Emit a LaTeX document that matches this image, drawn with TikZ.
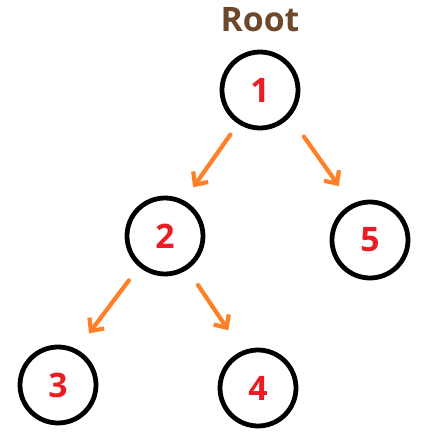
\documentclass[tikz,border=0pt]{standalone}
\usepackage{fontspec}
\setmainfont{Open Sans}
\usepackage{xcolor}
\usepackage{tikz}
\usetikzlibrary{arrows.meta,positioning}
\definecolor{rootbrown}{RGB}{110,72,40}
\definecolor{keyred}{RGB}{235,28,36}
\definecolor{edgeorange}{RGB}{255,128,38}

\begin{document}
\begin{tikzpicture}[
  tnode/.style={circle,draw=black,line width=3.4pt,minimum size=1.9cm,inner sep=0pt,
                font=\fontsize{24}{26}\selectfont\bfseries,text=keyred},
  arr/.style={-{Straight Barb[length=7pt,width=13pt,line width=3pt]},line width=3pt,
              draw=edgeorange,line cap=round},
  on grid]
  \useasboundingbox (-6.5,2.25) rectangle (4.375,-8.85);
  \node[tnode](n1){1};
  \node[font=\fontsize{24}{26}\selectfont\bfseries,text=rootbrown,above=1.75cm of n1](root){Root};
  \node[tnode,below left=3.65cm and 2.375cm of n1](n2){2};
  \node[tnode,below right=3.75cm and 2.75cm of n1](n5){5};
  \node[tnode,below left=3.725cm and 2.675cm of n2](n3){3};
  \node[tnode,below right=3.8cm and 2.325cm of n2](n4){4};
  \draw[arr,shorten <=0.33cm,shorten >=0.4cm](n1.-123)--(n2.62);
  \draw[arr,shorten <=0.6cm,shorten >=0.55cm](n1.-42)--(n5.117);
  \draw[arr,shorten <=0.42cm,shorten >=0.5cm](n2.-130)--(n3.62);
  \draw[arr,shorten <=0.47cm,shorten >=0.62cm](n2.-56)--(n4.113);
\end{tikzpicture}
\end{document}
